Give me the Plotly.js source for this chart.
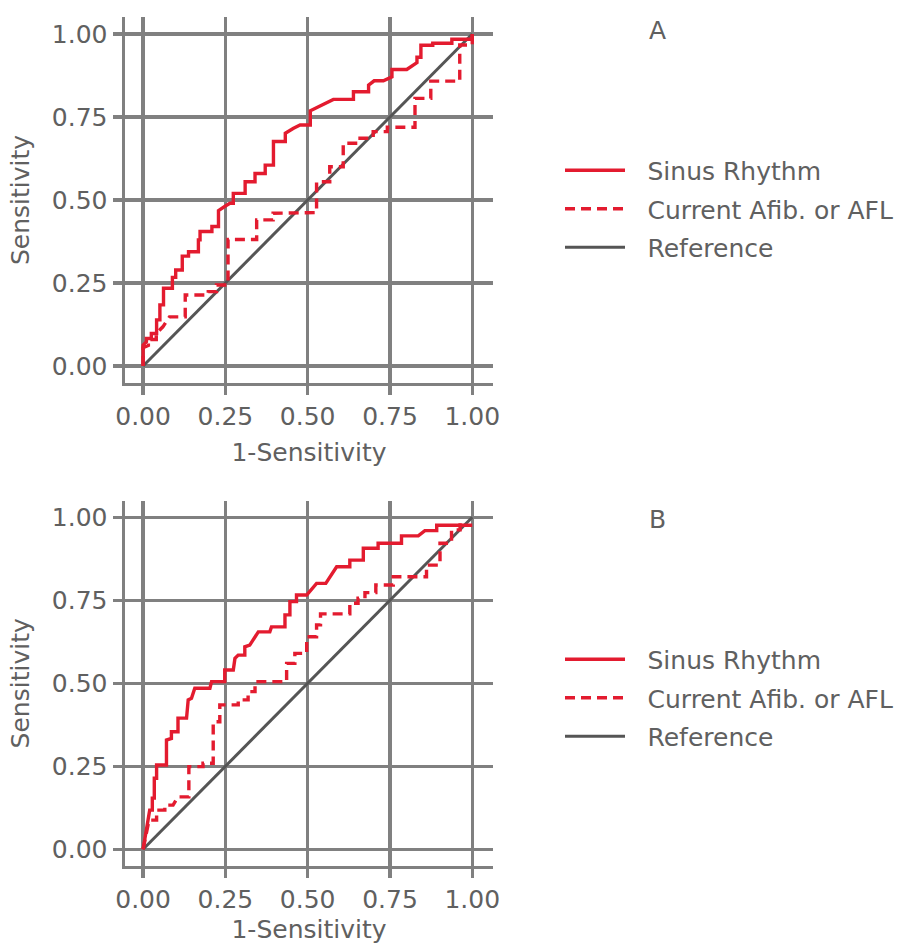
<!DOCTYPE html>
<html>
<head>
<meta charset="utf-8">
<script src="https://cdn.plot.ly/plotly-3.0.1.min.js"></script>
<style>html,body{margin:0;padding:0;background:#fff;}#chart{width:917px;height:944px;}</style>
</head>
<body>
<div id="chart"></div>
<script>
// ---------- data ----------
var tickVals = [0, 0.25, 0.5, 0.75, 1];
var tickText = ['0.00', '0.25', '0.50', '0.75', '1.00'];
var seriesNames = ['Sinus Rhythm', 'Current Afib. or AFL', 'Reference'];
var panelLabels = ['A', 'B'];
var refX = [0, 1];
var refY = [0, 1];

// Panel A – Sinus Rhythm
var sinusA_x = [0, 0, 0.01, 0.01, 0.025, 0.025, 0.041, 0.041, 0.051, 0.051, 0.062, 0.062, 0.089, 0.089, 0.099, 0.099, 0.119, 0.119, 0.138, 0.138, 0.168, 0.168, 0.173, 0.173, 0.209, 0.209, 0.229, 0.229, 0.25, 0.264, 0.274, 0.274, 0.31, 0.31, 0.34, 0.34, 0.371, 0.371, 0.396, 0.396, 0.432, 0.432, 0.457, 0.477, 0.508, 0.508, 0.578, 0.639, 0.639, 0.685, 0.685, 0.702, 0.73, 0.756, 0.756, 0.801, 0.832, 0.832, 0.844, 0.844, 0.88, 0.88, 0.938, 0.938, 1, 1];
var sinusA_y = [0, 0.063, 0.073, 0.083, 0.083, 0.098, 0.098, 0.139, 0.139, 0.184, 0.184, 0.234, 0.234, 0.267, 0.267, 0.289, 0.289, 0.331, 0.331, 0.344, 0.344, 0.38, 0.38, 0.405, 0.405, 0.42, 0.42, 0.468, 0.482, 0.49, 0.49, 0.52, 0.52, 0.555, 0.555, 0.58, 0.58, 0.605, 0.605, 0.676, 0.676, 0.701, 0.716, 0.726, 0.726, 0.769, 0.803, 0.803, 0.826, 0.826, 0.846, 0.859, 0.859, 0.871, 0.893, 0.893, 0.914, 0.93, 0.93, 0.966, 0.966, 0.972, 0.972, 0.984, 0.984, 1];
// Panel A – Current Afib. or AFL
var afibA_x = [0, 0, 0.016, 0.016, 0.04, 0.04, 0.06, 0.08, 0.128, 0.128, 0.198, 0.198, 0.223, 0.223, 0.258, 0.258, 0.345, 0.345, 0.395, 0.395, 0.527, 0.527, 0.567, 0.567, 0.608, 0.608, 0.659, 0.659, 0.699, 0.699, 0.742, 0.742, 0.826, 0.826, 0.874, 0.874, 0.962, 0.962, 1, 1];
var afibA_y = [0, 0.055, 0.062, 0.08, 0.08, 0.098, 0.118, 0.148, 0.148, 0.214, 0.214, 0.224, 0.224, 0.244, 0.244, 0.381, 0.381, 0.44, 0.44, 0.46, 0.462, 0.555, 0.555, 0.6, 0.6, 0.671, 0.671, 0.686, 0.686, 0.706, 0.706, 0.719, 0.719, 0.806, 0.806, 0.858, 0.858, 0.967, 0.967, 1];

// Panel B – Sinus Rhythm
var sinusB_x = [0, 0.008, 0.015, 0.02, 0.028, 0.028, 0.034, 0.034, 0.041, 0.041, 0.071, 0.071, 0.086, 0.086, 0.106, 0.106, 0.132, 0.137, 0.147, 0.157, 0.203, 0.208, 0.248, 0.248, 0.274, 0.279, 0.289, 0.309, 0.309, 0.324, 0.35, 0.385, 0.39, 0.431, 0.431, 0.446, 0.446, 0.466, 0.466, 0.497, 0.527, 0.555, 0.588, 0.628, 0.628, 0.669, 0.669, 0.714, 0.714, 0.785, 0.785, 0.836, 0.856, 0.892, 0.892, 1];
var sinusB_y = [0, 0.048, 0.088, 0.118, 0.118, 0.154, 0.154, 0.214, 0.214, 0.254, 0.254, 0.329, 0.334, 0.354, 0.354, 0.395, 0.395, 0.45, 0.455, 0.485, 0.485, 0.505, 0.505, 0.54, 0.54, 0.575, 0.585, 0.585, 0.61, 0.615, 0.655, 0.655, 0.67, 0.67, 0.706, 0.706, 0.746, 0.746, 0.766, 0.766, 0.801, 0.801, 0.851, 0.851, 0.871, 0.871, 0.907, 0.907, 0.922, 0.922, 0.944, 0.944, 0.96, 0.96, 0.976, 0.976];
// Panel B – Current Afib. or AFL
var afibB_x = [0, 0.01, 0.018, 0.041, 0.041, 0.066, 0.066, 0.091, 0.106, 0.139, 0.139, 0.182, 0.182, 0.213, 0.213, 0.233, 0.233, 0.289, 0.289, 0.319, 0.319, 0.34, 0.34, 0.436, 0.436, 0.461, 0.461, 0.497, 0.497, 0.527, 0.527, 0.539, 0.539, 0.628, 0.628, 0.653, 0.653, 0.674, 0.674, 0.707, 0.707, 0.76, 0.76, 0.861, 0.861, 0.902, 0.902, 0.937, 0.937, 0.963, 0.963];
var afibB_y = [0, 0.05, 0.088, 0.088, 0.118, 0.118, 0.133, 0.133, 0.158, 0.158, 0.249, 0.249, 0.259, 0.259, 0.384, 0.384, 0.435, 0.435, 0.45, 0.45, 0.475, 0.475, 0.505, 0.505, 0.56, 0.56, 0.59, 0.59, 0.64, 0.64, 0.676, 0.676, 0.709, 0.709, 0.741, 0.741, 0.756, 0.756, 0.773, 0.773, 0.796, 0.796, 0.821, 0.821, 0.856, 0.856, 0.922, 0.922, 0.962, 0.962, 1];

// ---------- styling ----------
var RED = '#e31b2f';
var REF = '#555555';
var GRID = '#808080';
var TXT = '#606060';
var FONT = 'DejaVu Sans';
var FS = 25;
var W = 917, H = 944;
var LEGPAD = '\u2002\u2009';   // visual gap between legend line and its label

function ref(xa, ya, leg) {
  return {x: refX, y: refY, xaxis: xa, yaxis: ya, mode: 'lines', name: LEGPAD + seriesNames[2],
    legend: leg, legendrank: 3, legendgroup: 'g3' + leg,
    line: {color: REF, width: 3}, hoverinfo: 'skip'};
}
function sinus(x, y, xa, ya, leg) {
  return {x: x, y: y, xaxis: xa, yaxis: ya, mode: 'lines', name: LEGPAD + seriesNames[0],
    legend: leg, legendrank: 1, legendgroup: 'g1' + leg,
    line: {color: RED, width: 3.4}};
}
function afib(x, y, xa, ya, leg) {
  return {x: x, y: y, xaxis: xa, yaxis: ya, mode: 'lines', name: LEGPAD + seriesNames[1],
    legend: leg, legendrank: 2, legendgroup: 'g2' + leg,
    line: {color: RED, width: 3.4, dash: '10px,6px'}};
}

var traces = [
  ref('x', 'y', 'legend'),
  sinus(sinusA_x, sinusA_y, 'x', 'y', 'legend'),
  afib(afibA_x, afibA_y, 'x', 'y', 'legend'),
  ref('x2', 'y2', 'legend2'),
  sinus(sinusB_x, sinusB_y, 'x2', 'y2', 'legend2'),
  afib(afibB_x, afibB_y, 'x2', 'y2', 'legend2')
];

function xAxis(anchor) {
  return {domain: [125 / W, 493 / W], range: [-0.055, 1.063], anchor: anchor,
    tickvals: tickVals, ticktext: tickText, ticks: 'outside', ticklen: 9, tickwidth: 3.5, tickcolor: GRID,
    showline: true, linecolor: GRID, linewidth: 3.5, showgrid: true, gridcolor: GRID, gridwidth: 3.5,
    zeroline: false, tickfont: {family: FONT, size: FS, color: TXT},
    title: {text: '1-Sensitivity', font: {family: FONT, size: FS, color: TXT}, standoff: 14}};
}
function yAxis(anchor, top, bottom) {
  return {domain: [1 - bottom / H, 1 - top / H], range: [-0.05, 1.05], anchor: anchor,
    tickvals: tickVals, ticktext: tickText, ticks: 'outside', ticklen: 9, tickwidth: 3.5, tickcolor: GRID,
    showline: true, linecolor: GRID, linewidth: 3.5, showgrid: true, gridcolor: GRID, gridwidth: 3.5,
    zeroline: false, tickfont: {family: FONT, size: FS, color: TXT},
    title: {text: 'Sensitivity', font: {family: FONT, size: FS, color: TXT}, standoff: 16}};
}
function legendBox(yc) {
  return {x: 560 / W, xanchor: 'left', y: 1 - yc / H, yanchor: 'middle', bgcolor: 'rgba(0,0,0,0)',
    font: {family: FONT, size: FS, color: TXT}, itemwidth: 60, tracegroupgap: 3, traceorder: 'grouped'};
}
function label(txt, yPix) {
  return {text: txt, x: 657 / W, y: 1 - yPix / H, xref: 'paper', yref: 'paper', showarrow: false,
    xanchor: 'center', yanchor: 'middle', font: {family: FONT, size: FS, color: TXT}};
}

var layout = {
  width: W, height: H, margin: {l: 0, r: 0, t: 0, b: 0},
  paper_bgcolor: '#fff', plot_bgcolor: '#fff', showlegend: true,
  font: {family: FONT, color: TXT},
  xaxis: xAxis('y'), yaxis: yAxis('x', 17.4, 382.6),
  xaxis2: xAxis('y2'), yaxis2: yAxis('x2', 500.7, 865.9),
  legend: legendBox(209), legend2: legendBox(698),
  annotations: [label(panelLabels[0], 31), label(panelLabels[1], 519)]
};

Plotly.newPlot('chart', traces, layout, {displayModeBar: false, staticPlot: true});
</script>
</body>
</html>
